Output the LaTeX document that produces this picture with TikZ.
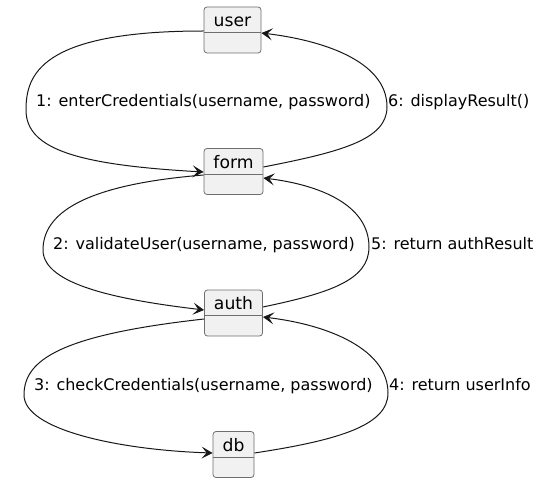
\documentclass[tikz,border=0pt]{standalone}
\usepackage{fontspec}
\setmainfont{DejaVu Sans}
\usetikzlibrary{arrows.meta,calc}
\definecolor{edgec}{HTML}{181818}
\definecolor{boxfill}{HTML}{F1F1F1}
\definecolor{boxline}{HTML}{6E6E6E}
\tikzset{
  objbox/.style={draw=boxline, fill=boxfill, line width=0.8pt, rounded corners=3pt, inner sep=0pt},
  objname/.style={anchor=base, inner sep=0pt, font=\fontsize{17.2}{20}\selectfont, text=black},
  objdiv/.style={draw=boxline, line width=0.8pt},
  msg/.style={anchor=base west, inner sep=0pt, font=\fontsize{16}{19}\selectfont, text=black},
  link/.style={draw=edgec, line width=1pt, -{Stealth[length=11pt,width=12pt,inset=5pt]}}
}
\begin{document}
\begin{tikzpicture}[x=1pt,y=-1pt]
\useasboundingbox (0,0) rectangle (556,481);
% boxes
\node[objbox, minimum width=57pt, minimum height=46pt] (user) at (232.5,30) {};
\node[objname] (usert) at (232.5,27) {user};
\draw[objdiv] ($(user.north west)+(0,26)$) -- ($(user.north east)+(0,26)$);

\node[objbox, minimum width=59pt, minimum height=46pt] (form) at (233.5,171.5) {};
\node[objname] (formt) at (233.5,168.2) {form};
\draw[objdiv] ($(form.north west)+(0,26)$) -- ($(form.north east)+(0,26)$);

\node[objbox, minimum width=58pt, minimum height=46pt] (auth) at (233.5,313) {};
\node[objname] (autht) at (233.5,309.7) {auth};
\draw[objdiv] ($(auth.north west)+(0,26)$) -- ($(auth.north east)+(0,26)$);

\node[objbox, minimum width=41pt, minimum height=46pt] (db) at (233.5,454.5) {};
\node[objname] (dbt) at (233.5,451.2) {db};
\draw[objdiv] ($(db.north west)+(0,26)$) -- ($(db.north east)+(0,26)$);

% labels
\node[msg] (l1) at (36,107) {1: enterCredentials(username, password)};
\node[msg] (l6) at (388,107) {6: displayResult()};
\node[msg] (l2) at (53,249) {2: validateUser(username, password)};
\node[msg] (l5) at (371,249) {5: return authResult};
\node[msg] (l3) at (34,390) {3: checkCredentials(username, password)};
\node[msg] (l4) at (389,390) {4: return userInfo};

% edges
\draw[link] ($(user.west)+(0,1)$) .. controls (40,31) and (26,75) .. (26,110)
  .. controls (26,150) and (80,165) .. ($(form.west)+(0,0.5)$);
\draw[link] ($(form.east)+(0,-4.5)$) .. controls (340,152) and (387,140) .. (387,107)
  .. controls (387,60) and (320,40) .. ($(user.east)+(0,3)$);
\draw[link] ($(form.west)+(0,3.5)$) .. controls (80,185) and (43,215) .. (43,250)
  .. controls (43,285) and (120,300) .. ($(auth.west)+(0,-3)$);
\draw[link] ($(auth.east)+(0,-6)$) .. controls (330,293) and (369,280) .. (369,247)
  .. controls (369,205) and (320,185) .. ($(form.east)+(0,6.5)$);
\draw[link] ($(auth.west)+(0,6)$) .. controls (60,335) and (24,360) .. (24,395)
  .. controls (24,430) and (120,450) .. ($(db.west)+(0,-1.5)$);
\draw[link] ($(db.east)+(0,-1.5)$) .. controls (340,440) and (388,425) .. (388,393)
  .. controls (388,350) and (330,325) .. ($(auth.east)+(0,4)$);
\end{tikzpicture}
\end{document}
